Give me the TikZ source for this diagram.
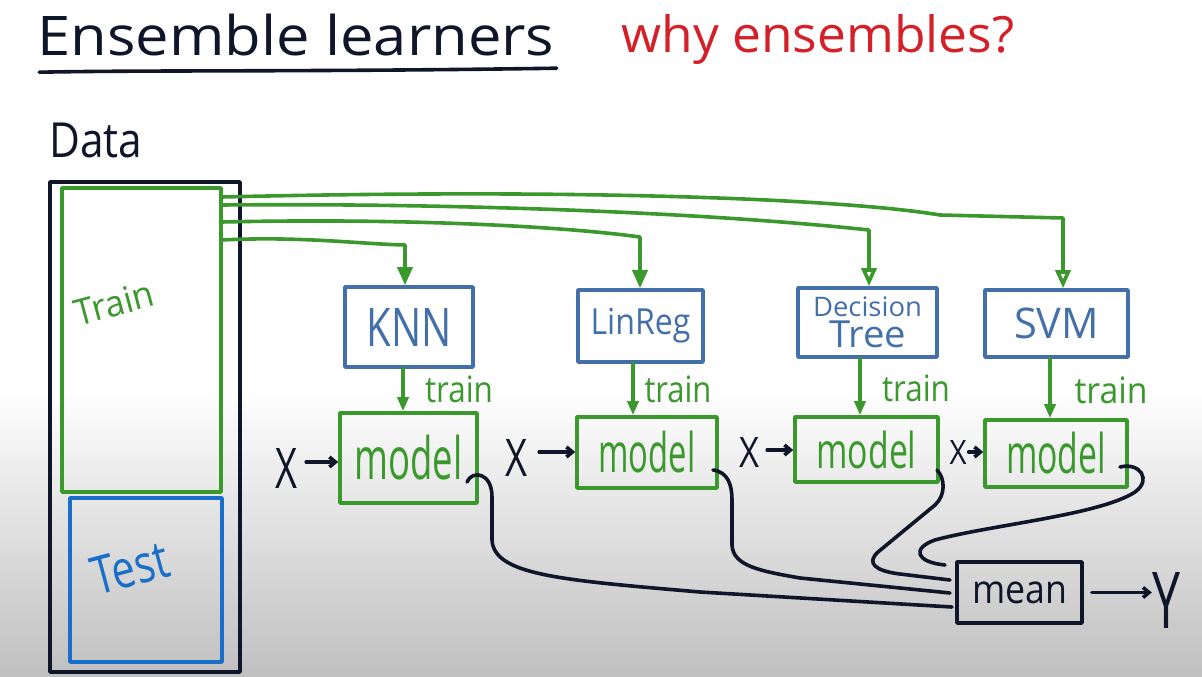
\documentclass[tikz,border=0pt]{standalone}
\usepackage{fontspec}
\setmainfont{Open Sans}
\usepackage{graphicx}
\usetikzlibrary{arrows.meta,calc}
\definecolor{ink}{RGB}{16,22,42}
\definecolor{grn}{RGB}{58,152,44}
\definecolor{bblue}{RGB}{68,112,170}
\definecolor{tblue}{RGB}{24,110,200}
\definecolor{rd}{RGB}{212,32,40}
\newcommand\fit[3]{\resizebox*{#1pt}{#2pt}{#3}}
\begin{document}
\begin{tikzpicture}[x=1pt,y=-1pt,line cap=round,line join=round,
  pen/.style={line width=3.6pt},
  box/.style={pen,draw,inner sep=0pt,anchor=center},
  txt/.style={inner sep=0pt,anchor=center},
  gline/.style={pen,draw=grn},
  kline/.style={pen,draw=ink},
  gfill/.style={-{Triangle[length=18pt,width=15pt]}},
  gopen/.style={-{Triangle[open,length=18pt,width=15pt]}},
  gtrain/.style={pen,draw=grn,-{Triangle[length=14pt,width=11pt]}},
  karr/.style={pen,draw=ink,-{Straight Barb[length=6pt,width=10pt]}}]
\useasboundingbox (0,0) rectangle (1202,677);
\clip (0,0) rectangle (1202,677);
\fill[white] (0,0) rectangle (1202,677);
\shade[top color=white,bottom color=gray!50] (0,390) rectangle (1202,677);

% titles
\node[txt,text=ink] (title) at (296,35) {\fit{517}{42}{Ensemble learners}};
\draw[kline] (title.south west) ++(2,16) coordinate (u1);
\coordinate (u2) at ($(title.south east)+(2,12)$);
\draw[kline] (u1) .. controls (150,70) and (300,72) .. (u2);
\node[txt,text=rd] (why) at (818,40) {\fit{393}{50}{why ensembles?}};
\node[txt,text=ink] (data) at (96,140) {\fit{93}{35}{Data}};

% data column
\node[box,draw=ink,minimum width=190pt,minimum height=490pt] (outer) at (145,427) {};
\node[box,draw=grn,minimum width=159pt,minimum height=304pt] (trainbox) at (141.5,340) {};
\node[box,draw=tblue,minimum width=152pt,minimum height=164pt] (testbox) at (146,580) {};
\node[txt,text=grn,rotate=15] (trainlbl) at (114,303) {\fit{81}{27}{Train}};
\node[txt,text=tblue,rotate=15] (testlbl) at (130,568) {\fit{78}{38}{Test}};

% learners
\node[box,draw=bblue,text=bblue,minimum width=128pt,minimum height=80pt] (knn) at (409,327) {\fit{85}{38}{KNN}};
\node[box,draw=bblue,text=bblue,minimum width=125pt,minimum height=72pt] (lr) at (640.5,326) {\fit{100}{35}{LinReg}};
\node[box,draw=bblue,text=bblue,minimum width=139pt,minimum height=69pt,align=center] (dt) at (867.5,322.5) {\fit{109}{20}{Decision}\\[3pt]\fit{77}{27}{Tree}};
\node[box,draw=bblue,text=bblue,minimum width=143pt,minimum height=67pt] (svm) at (1056.5,323.5) {\fit{85}{31}{SVM}};

% models
\node[box,draw=grn,text=grn,minimum width=137pt,minimum height=90pt] (m1) at (408.5,458) {\fit{108}{45}{model}};
\node[box,draw=grn,text=grn,minimum width=140pt,minimum height=71pt] (m2) at (647,452.5) {\fit{97}{42}{model}};
\node[box,draw=grn,text=grn,minimum width=143pt,minimum height=65pt] (m3) at (866.5,449.5) {\fit{100}{38}{model}};
\node[box,draw=grn,text=grn,minimum width=142pt,minimum height=67pt] (m4) at (1056,453.5) {\fit{100}{42}{model}};

% train labels
\node[txt,text=grn] (t1) at (459,389) {\fit{68}{27}{train}};
\node[txt,text=grn] (t2) at (678,389) {\fit{67}{27}{train}};
\node[txt,text=grn] (t3) at (916,388) {\fit{68}{27}{train}};
\node[txt,text=grn] (t4) at (1111,390) {\fit{73}{27}{train}};

% X inputs
\node[txt,text=ink] (x1) at (286,468) {\fit{22}{40}{X}};
\node[txt,text=ink] (x2) at (516,458) {\fit{22}{37}{X}};
\node[txt,text=ink] (x3) at (749,452) {\fit{20}{30}{X}};
\node[txt,text=ink] (x4) at (958,452) {\fit{17}{24}{X}};

% mean and output
\node[box,draw=ink,text=ink,minimum width=125pt,minimum height=61pt] (mean) at (1019.5,592.5) {\fit{95}{22}{mean}};
\node[txt,text=ink] (yout) at (1166,600) {\fit{28}{56}{Y}};

% feeder lines from Train
\coordinate (s1) at (222,197);
\coordinate (s2) at (222,205);
\coordinate (s3) at (222,222);
\coordinate (s4) at (222,240);
\coordinate (v1) at (1063,218);
\coordinate (v2) at (869,230);
\coordinate (v3) at (640,237);
\coordinate (v4) at (405,245);
\draw[gline,gopen] (s1) .. controls (600,188) and (850,200) .. (940,215) -- (v1) -- (v1 |- svm.north);
\draw[gline,gopen] (s2) .. controls (450,203) and (700,212) .. (v2) -- (v2 |- dt.north);
\draw[gline,gfill] (s3) .. controls (400,218) and (560,226) .. (v3) -- (v3 |- lr.north);
\draw[gline,gfill] (s4) .. controls (300,236) and (360,244) .. (v4) -- (v4 |- knn.north);

% train arrows
\coordinate (a1) at (403,0);
\coordinate (a2) at (633,0);
\coordinate (a3) at (860,0);
\coordinate (a4) at (1050,0);
\draw[gtrain] (knn.south -| a1) -- (m1.north -| a1);
\draw[gtrain] (lr.south -| a2) -- (m2.north -| a2);
\draw[gtrain] (dt.south -| a3) -- (m3.north -| a3);
\draw[gtrain] (svm.south -| a4) -- (m4.north -| a4);

% X arrows
\draw[karr] ($(x1.east)+(9,-6)$) coordinate (xa1) -- (xa1 -| m1.west);
\draw[karr] ($(x2.east)+(12,-6)$) coordinate (xa2) -- (xa2 -| m2.west);
\draw[karr] ($(x3.east)+(8,-2)$) coordinate (xa3) -- (xa3 -| m3.west);
\draw[karr] ($(x4.east)+(2,0)$) coordinate (xa4) -- (xa4 -| m4.west);

% model outputs to mean
\coordinate (o1) at (467,482);
\coordinate (o2) at (713,470);
\coordinate (o3) at (937,470);
\coordinate (o4) at (1120,467);
\coordinate (e1) at (952,607);
\coordinate (e2) at (950,593);
\coordinate (e3) at (950,580);
\coordinate (e4) at (945,565);
\draw[kline] (o1) .. controls (472,470) and (492,472) .. (492,497) -- (492,540) .. controls (494,575) and (560,580) .. (700,592) -- (e1);
\draw[kline] (o2) .. controls (728,472) and (732,485) .. (732,500) -- (732,545) .. controls (733,566) and (760,571) .. (800,578) -- (e2);
\draw[kline] (o3) .. controls (945,478) and (946,495) .. (935,505) -- (878,552) .. controls (866,563) and (875,571) .. (900,574) -- (e3);
\draw[kline] (o4) .. controls (1140,462) and (1152,480) .. (1135,492) .. controls (1100,515) and (990,525) .. (935,540) .. controls (912,548) and (915,562) .. (e4);

% mean to Y
\draw[karr] ($(mean.east)+(8,0)$) coordinate (ya) -- (ya -| yout.west);
\end{tikzpicture}
\end{document}
